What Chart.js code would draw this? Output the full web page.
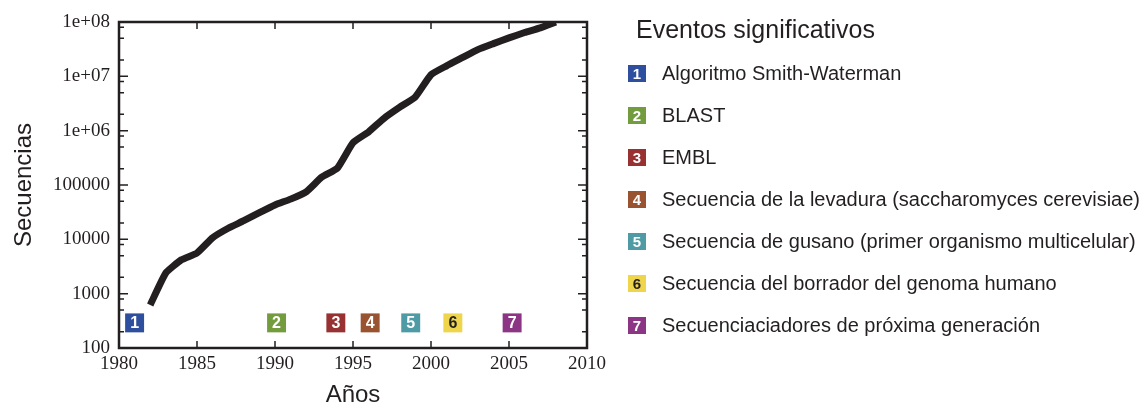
<!DOCTYPE html>
<html>
<head>
<meta charset="utf-8">
<script src="https://cdn.jsdelivr.net/npm/chart.js@4.4.1/dist/chart.umd.min.js"></script>
<style>
  body { margin: 0; background: #fff; }
  #wrap { position: relative; width: 1146px; height: 405px; }
  #seqChart { position: absolute; left: 0; top: 0; }
  .leg-title { position: absolute; left: 636px; top: 14px; font: 25px "Liberation Sans", Arial, sans-serif; line-height: 30px; color: #231f20; }
  .leg-row { position: absolute; left: 628px; height: 24px; display: flex; align-items: center; font: 20px "Liberation Sans", Arial, sans-serif; line-height: 24px; color: #231f20; white-space: nowrap; }
  .leg-box { width: 18px; height: 17px; margin-right: 16px; color: #fff; font: bold 15px "Liberation Sans", Arial, sans-serif; line-height: 17px; text-align: center; }
</style>
</head>
<body>
<div id="wrap">
  <canvas id="seqChart" width="1146" height="405"></canvas>
  <div class="leg-title">Eventos significativos</div>
  <div id="legend"></div>
</div>
<script>
// datos
const years = [1982, 1983, 1984, 1985, 1986, 1987, 1988, 1989, 1990, 1991, 1992, 1993, 1994,
  1995, 1996, 1997, 1998, 1999, 2000, 2001, 2002, 2003, 2004, 2005, 2006, 2007, 2008];
const sequences = [620, 2400, 4200, 5600, 10700, 16000, 22000, 31000, 43000, 55000, 75000, 140000, 205000,
  600000, 950000, 1.7e6, 2.7e6, 4.2e6, 1.07e7, 1.56e7, 2.2e7, 3.1e7, 4.0e7, 5.1e7, 6.4e7, 7.8e7, 1.0e8];

const eventNums = ['1', '2', '3', '4', '5', '6', '7'];
const eventYears = [1981, 1990.1, 1993.9, 1996.1, 1998.7, 2001.4, 2005.2];
const eventLevel = 290;
const eventLabels = [
  'Algoritmo Smith-Waterman',
  'BLAST',
  'EMBL',
  'Secuencia de la levadura (saccharomyces cerevisiae)',
  'Secuencia de gusano (primer organismo multicelular)',
  'Secuencia del borrador del genoma humano',
  'Secuenciaciadores de próxima generación'
];
const eventColors = ['#2e4f9e', '#739c3e', '#983232', '#9a5331', '#4e9ba6', '#eed54c', '#8b3584'];
const eventTextColors = ['#fff', '#fff', '#fff', '#fff', '#fff', '#231f20', '#fff'];

const xTicks = [1980, 1985, 1990, 1995, 2000, 2005, 2010];
const yTicks = [100, 1000, 10000, 100000, 1e6, 1e7, 1e8];
const yTickLabels = ['100', '1000', '10000', '100000', '1e+06', '1e+07', '1e+08'];
const yMinor = [2, 5, 8];

// leyenda html
const legendRowsY = [61, 103, 145, 187, 229, 271, 313];
const legend = document.getElementById('legend');
eventLabels.forEach((txt, i) => {
  const row = document.createElement('div');
  row.className = 'leg-row';
  row.style.top = legendRowsY[i] + 'px';
  row.innerHTML = '<div class="leg-box" style="background:' + eventColors[i] + ';color:' + eventTextColors[i] + '">' +
    eventNums[i] + '</div><span>' + txt + '</span>';
  legend.appendChild(row);
});

// marco y marcas hacia dentro
const frame = {
  id: 'frame',
  beforeDatasetsDraw(chart) {
    const { ctx, chartArea: a, scales: { x, y } } = chart;
    ctx.save();
    ctx.strokeStyle = '#231f20';
    ctx.lineWidth = 1.5;
    ctx.beginPath();
    xTicks.forEach(v => {
      const px = x.getPixelForValue(v);
      ctx.moveTo(px, a.top); ctx.lineTo(px, a.top + 7);
      ctx.moveTo(px, a.bottom); ctx.lineTo(px, a.bottom - 7);
    });
    yTicks.forEach((v, i) => {
      const py = y.getPixelForValue(v);
      ctx.moveTo(a.left, py); ctx.lineTo(a.left + 9, py);
      ctx.moveTo(a.right, py); ctx.lineTo(a.right - 9, py);
      if (i < yTicks.length - 1) {
        yMinor.forEach(m => {
          const pm = y.getPixelForValue(v * m);
          ctx.moveTo(a.left, pm); ctx.lineTo(a.left + 5, pm);
          ctx.moveTo(a.right, pm); ctx.lineTo(a.right - 5, pm);
        });
      }
    });
    ctx.stroke();
    ctx.lineWidth = 2.5;
    ctx.strokeRect(a.left, a.top, a.width, a.height);
    ctx.restore();
  }
};

// numeros dentro de los cuadros
const markerText = {
  id: 'markerText',
  afterDatasetsDraw(chart) {
    const ctx = chart.ctx;
    const meta = chart.getDatasetMeta(1);
    ctx.save();
    ctx.font = 'bold 16px "Liberation Sans", Arial, sans-serif';
    ctx.textAlign = 'center';
    ctx.textBaseline = 'middle';
    meta.data.forEach((pt, i) => {
      ctx.fillStyle = eventTextColors[i];
      ctx.fillText(eventNums[i], pt.x, pt.y + 1);
    });
    ctx.restore();
  }
};

const tickFont = { family: '"Liberation Serif", "Times New Roman", serif', size: 19 };
const titleFont = { family: '"Liberation Sans", Arial, sans-serif', size: 24, lineHeight: 1 };

new Chart(document.getElementById('seqChart'), {
  type: 'line',
  data: {
    datasets: [
      {
        data: years.map((yr, i) => ({ x: yr, y: sequences[i] })),
        borderColor: '#231f20',
        borderWidth: 7,
        pointRadius: 0,
        tension: 0.15,
        borderJoinStyle: 'round'
      },
      {
        data: eventYears.map(yr => ({ x: yr, y: eventLevel })),
        showLine: false,
        pointStyle: 'rect',
        pointRadius: 13.4,
        pointBorderWidth: 0,
        pointBackgroundColor: eventColors,
        pointHoverRadius: 13.4
      }
    ]
  },
  options: {
    responsive: false,
    animation: false,
    events: [],
    layout: { padding: { left: 0, top: 22, right: 559, bottom: 0 } },
    plugins: { legend: { display: false }, tooltip: { enabled: false } },
    scales: {
      x: {
        type: 'linear',
        min: 1980,
        max: 2010,
        afterBuildTicks: s => { s.ticks = xTicks.map(v => ({ value: v })); },
        afterFit: s => { s.height = 57; },
        grid: { display: false },
        border: { display: false },
        ticks: { font: tickFont, color: '#231f20', padding: -3, maxRotation: 0, callback: v => String(v) },
        title: { display: true, text: 'Años', font: titleFont, color: '#231f20', padding: { top: 0, bottom: -2 } }
      },
      y: {
        type: 'logarithmic',
        min: 100,
        max: 1e8,
        afterBuildTicks: s => { s.ticks = yTicks.map(v => ({ value: v })); },
        afterFit: s => { s.width = 119; },
        grid: { display: false },
        border: { display: false },
        ticks: { font: tickFont, color: '#231f20', padding: 1, callback: (v, i) => yTickLabels[i] },
        title: { display: true, text: 'Secuencias', font: titleFont, color: '#231f20', padding: { top: 12.5, bottom: 0 } }
      }
    }
  },
  plugins: [frame, markerText]
});
</script>
</body>
</html>
